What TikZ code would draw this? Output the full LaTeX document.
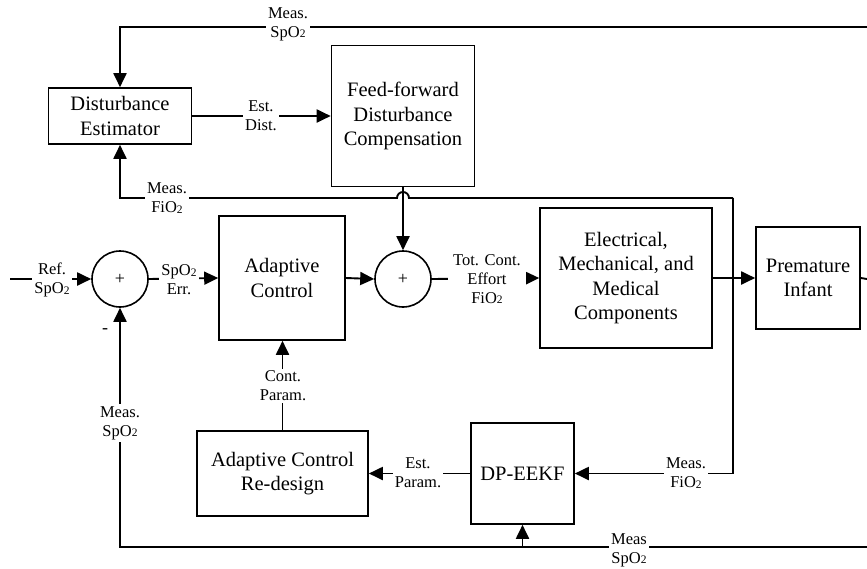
\documentclass[tikz,border=0pt]{standalone}
\usepackage{fontspec}
\setmainfont{Liberation Serif}
\usetikzlibrary{arrows.meta}
\newcommand{\subtwo}{{\fontsize{11.5}{11.5}\selectfont\raisebox{-0.5pt}{2}}}
\begin{document}
\begin{tikzpicture}[x=1pt,y=-1pt,
  blk/.style={draw, line width=1.6pt, inner sep=0pt, align=center, font=\fontsize{20.5}{24.5}\selectfont},
  sumc/.style={draw, circle, line width=1.6pt, minimum size=56pt, inner sep=0pt, font=\fontsize{18}{18}\selectfont},
  arr/.style={line width=1.9pt, -{Triangle[length=14pt,width=13pt]}},
  ln/.style={line width=1.9pt},
  lbl/.style={fill=white, inner sep=2pt, align=center, font=\fontsize{16.5}{19}\selectfont}]
\useasboundingbox (0,0) rectangle (867,568);
% blocks
\node[blk, minimum width=143pt, minimum height=56pt] (DE) at (120,116) {Disturbance\\Estimator};
\node[blk, minimum width=143pt, minimum height=141pt] (FF) at (403,116) {Feed-forward\\Disturbance\\Compensation};
\node[sumc] (S1) at (120,279) {+};
\node[blk, minimum width=126pt, minimum height=124pt] (AC) at (282,278) {Adaptive\\Control};
\node[sumc] (S2) at (403,279) {+};
\node[blk, minimum width=172pt, minimum height=140pt] (EMM) at (626,278) {Electrical,\\Mechanical, and\\Medical\\Components};
\node[blk, minimum width=104pt, minimum height=102pt] (PI) at (808,278) {Premature\\Infant};
\node[blk, minimum width=171pt, minimum height=85pt] (RD) at (282.5,473.5) {Adaptive Control\\Re-design};
\node[blk, minimum width=103pt, minimum height=101pt] (DP) at (522.5,473.5) {DP-EEKF};
% free ends
\coordinate (topR) at (867,27);
\coordinate (botR) at (867,547);
\coordinate (outR) at (867,279);
\coordinate (inL) at (10,279);
\coordinate (tapF) at (733,198);
% connectors
\draw[arr] (topR) -- (DE.north |- topR) -- (DE.north);
\draw[arr] (DE.east) -- (FF.west);
\draw[arr] (tapF) -- (409,198) arc[start angle=0, end angle=180, radius=6pt] -- (DE.south |- tapF) -- (DE.south);
\draw[arr] (FF.south) -- (S2.north);
\draw[arr] (inL) -- (S1.west);
\draw[arr] (S1.east) -- (AC.west);
\draw[arr] (AC.east) -- (S2.west);
\draw[arr] (S2.east) -- (EMM.west);
\draw[arr] (EMM.east) -- (PI.west);
\draw[ln] (PI.east) -- (outR);
\draw[arr] (tapF) -- (tapF |- DP.east) -- (DP.east);
\draw[arr] (DP.west) -- (RD.east);
\draw[arr] (RD.north) -- (RD.north |- AC.south);
\draw[arr] (botR) -- (S1.south |- botR) -- (S1.south);
\draw[arr] (DP.south |- botR) -- (DP.south);
% labels
\node[lbl] (l1) at (288,24) {Meas.\\SpO\subtwo};
\node[lbl] (l2) at (261,116) {Est.\\Dist.};
\node[lbl] (l3) at (167,198) {Meas.\\FiO\subtwo};
\node[lbl] (l4) at (52,280) {Ref.\\SpO\subtwo};
\node[lbl] (l5) at (179,280) {SpO\subtwo\\Err.};
\node[lbl, inner sep=5pt] (l6) at (487,279) {Tot. Cont.\\Effort\\FiO\subtwo};
\node[lbl] (l7) at (283,386) {Cont.\\Param.};
\node[lbl] (l8) at (120,423) {Meas.\\SpO\subtwo};
\node[lbl] (l9) at (418,473) {Est.\\Param.};
\node[lbl] (l10) at (686,473) {Meas.\\FiO\subtwo};
\node[lbl] (l11) at (629,550) {Meas\\SpO\subtwo};
\node[font=\fontsize{18}{18}\selectfont] (minus) at (105,331) {-};
\end{tikzpicture}
\end{document}
